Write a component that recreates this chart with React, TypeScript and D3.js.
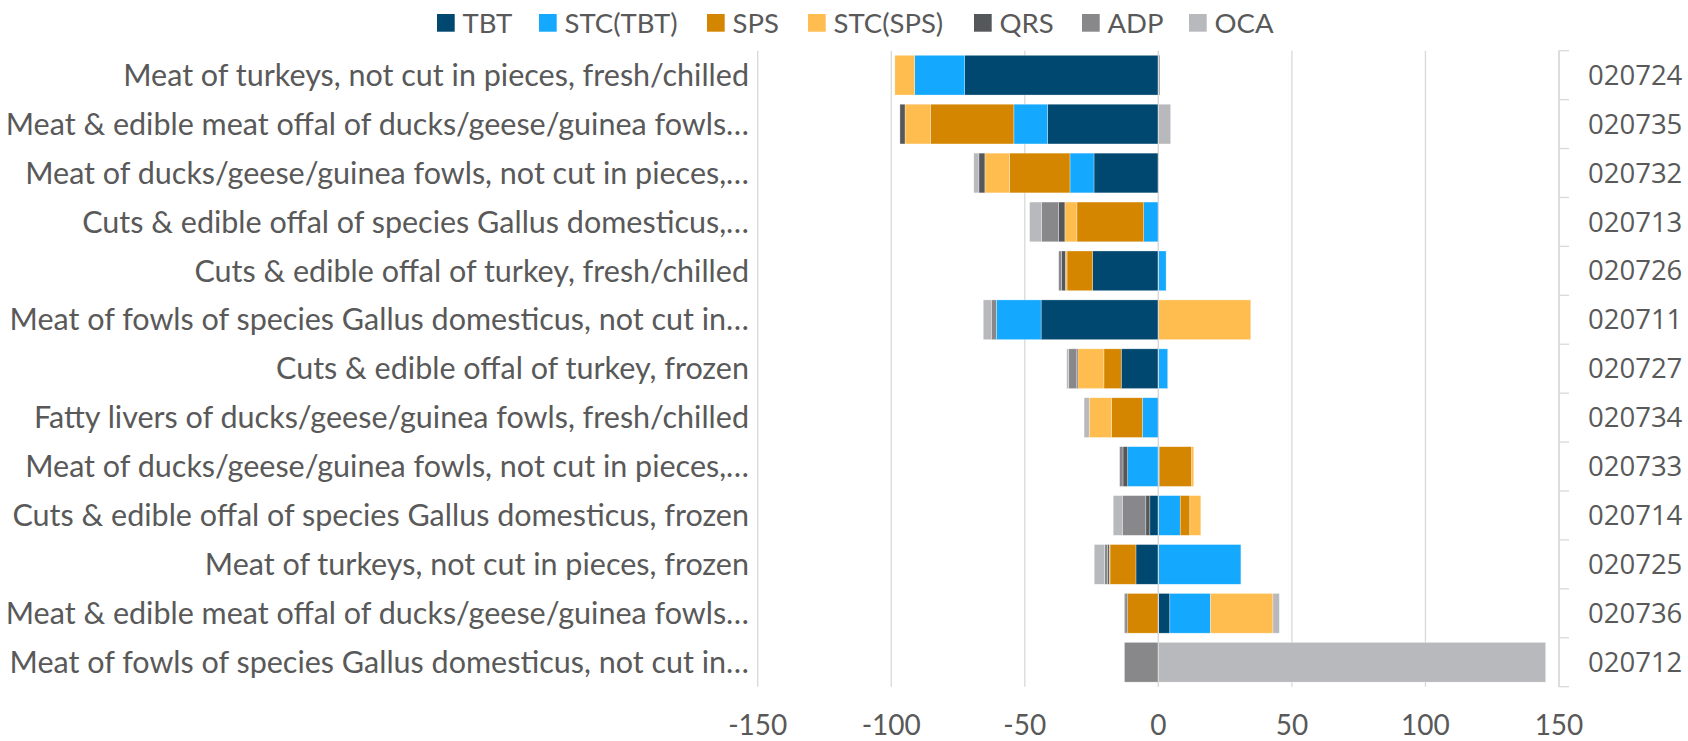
import { useEffect } from "react";
import * as d3 from "d3";

const products = [
  "Meat of turkeys, not cut in pieces, fresh/chilled",
  "Meat & edible meat offal of ducks/geese/guinea fowls…",
  "Meat of ducks/geese/guinea fowls, not cut in pieces,…",
  "Cuts & edible offal of species Gallus domesticus,…",
  "Cuts & edible offal of turkey, fresh/chilled",
  "Meat of fowls of species Gallus domesticus, not cut in…",
  "Cuts & edible offal of turkey, frozen",
  "Fatty livers of ducks/geese/guinea fowls, fresh/chilled",
  "Meat of ducks/geese/guinea fowls, not cut in pieces,…",
  "Cuts & edible offal of species Gallus domesticus, frozen",
  "Meat of turkeys, not cut in pieces, frozen",
  "Meat & edible meat offal of ducks/geese/guinea fowls…",
  "Meat of fowls of species Gallus domesticus, not cut in…",
];

const codes = [
  "020724", "020735", "020732", "020713", "020726", "020711", "020727",
  "020734", "020733", "020714", "020725", "020736", "020712",
];

const seriesNames = ["TBT", "STC(TBT)", "SPS", "STC(SPS)", "QRS", "ADP", "OCA"];
const seriesColors = ["#014870", "#14a8ff", "#d48600", "#ffbc4f", "#55585b", "#88888b", "#b8b9bc"];

const tbt = [-72.5, -41.5, -24.1, 0, -24.6, -43.9, -13.9, 0, 0.5, -3.2, -8.4, 4.3, 0];
const stcTbt = [-18.75, -12.6, -9, -5.5, 2.9, -16.75, 3.5, -6, -11.5, 8.2, 30.9, 15.2, 0];
const sps = [0, -31.25, -22.6, -25, -9.6, 0, -6.5, -11.5, 12, 3.6, -9.7, -11.6, 0];
const stcSps = [-7.4, -9.5, -9.25, -4.5, -0.6, 34.6, -9.75, -8.4, 0.75, 4.1, -0.3, 23.4, 0];
const qrs = [0.5, -1.9, -2.25, -2.4, -1.4, 0, -0.4, 0, -1.75, -1.5, -0.6, -0.5, 0];
const adp = [0, 0, 0, -6.4, -1.1, -1.9, -3, 0, -1.25, -8.8, -1.1, -0.6, -12.7];
const oca = [0, 4.6, -1.9, -4.4, 0, -3, -0.75, -1.9, 0, -3.4, -3.9, 2.4, 145];

const xTicks = [-150, -100, -50, 0, 50, 100, 150];

const W = 1688;
const H = 741;
const textColor = "#595959";
const gridColor = "#d9d9d9";

export default function App() {
  useEffect(() => {
    document.body.style.margin = "0";
  }, []);

  const values = [tbt, stcTbt, sps, stcSps, qrs, adp, oca];
  const rows = codes.map((c, i) => {
    const r: any = { code: c };
    seriesNames.forEach((s, k) => (r[s] = values[k][i]));
    return r;
  });

  // diverging stack: negatives go left from 0, positives right, in series order
  const stack = d3.stack<any>().keys(seriesNames).offset(d3.stackOffsetDiverging);
  const layers = stack(rows);

  const x = d3.scaleLinear().domain([-150, 150]).range([757.7, 1559]);
  const y = d3
    .scaleBand<string>()
    .domain(codes)
    .range([50.7, 686.7])
    .paddingInner(0.188)
    .paddingOuter(0.094);
  const step = y.step();

  const legendX = [437, 539, 707, 808, 974, 1082, 1189];

  return (
    <svg width={W} height={H} style={{ display: "block" }} fontFamily="Lato, sans-serif">
      {/* legend */}
      {seriesNames.map((s, i) => (
        <g key={s}>
          <rect x={legendX[i]} y={14} width={17.7} height={17.7} fill={seriesColors[i]} />
          <text x={legendX[i] + 25.5} y={32.5} fontSize={27.5} fill={textColor}>
            {s}
          </text>
        </g>
      ))}

      {/* gridlines */}
      {xTicks.map((t) => (
        <line key={t} x1={x(t)} x2={x(t)} y1={50.7} y2={686.7} stroke={gridColor} strokeWidth={1.3} />
      ))}

      {/* bars */}
      {layers.map((layer, k) => (
        <g key={layer.key} fill={seriesColors[k]}>
          {layer.map((d, i) => {
            const x0 = x(Math.min(d[0], d[1]));
            const x1 = x(Math.max(d[0], d[1]));
            if (x1 - x0 < 0.01) return null;
            return (
              <rect
                key={i}
                x={x0}
                y={y(codes[i])}
                width={x1 - x0}
                height={y.bandwidth()}
                stroke="#ffffff"
                strokeOpacity={0.5}
                strokeWidth={0.6}
              />
            );
          })}
        </g>
      ))}

      {/* zero line over bars */}
      <line x1={x(0)} x2={x(0)} y1={50.7} y2={686.7} stroke={gridColor} strokeWidth={1.2} />

      {/* category labels */}
      {products.map((p, i) => (
        <text
          key={i}
          x={749}
          y={(y(codes[i]) as number) + y.bandwidth() / 2}
          dy="0.35em"
          textAnchor="end"
          fontSize={30.5}
          fill={textColor}
        >
          {p}
        </text>
      ))}

      {/* x tick labels */}
      {xTicks.map((t) => (
        <text key={t} x={x(t)} y={735} textAnchor="middle" fontSize={28} fill={textColor}>
          {t}
        </text>
      ))}

      {/* secondary category axis with codes */}
      <line x1={1559} x2={1559} y1={50.7} y2={686.7} stroke={gridColor} strokeWidth={1.3} />
      {d3.range(codes.length + 1).map((j) => (
        <line
          key={j}
          x1={1559}
          x2={1569}
          y1={50.7 + j * step}
          y2={50.7 + j * step}
          stroke={gridColor}
          strokeWidth={1.3}
        />
      ))}
      {codes.map((c) => (
        <text
          key={c}
          x={1588}
          y={(y(c) as number) + y.bandwidth() / 2}
          dy="0.35em"
          fontFamily="'Open Sans', sans-serif"
          fontSize={27.5}
          fill={textColor}
        >
          {c}
        </text>
      ))}
    </svg>
  );
}
